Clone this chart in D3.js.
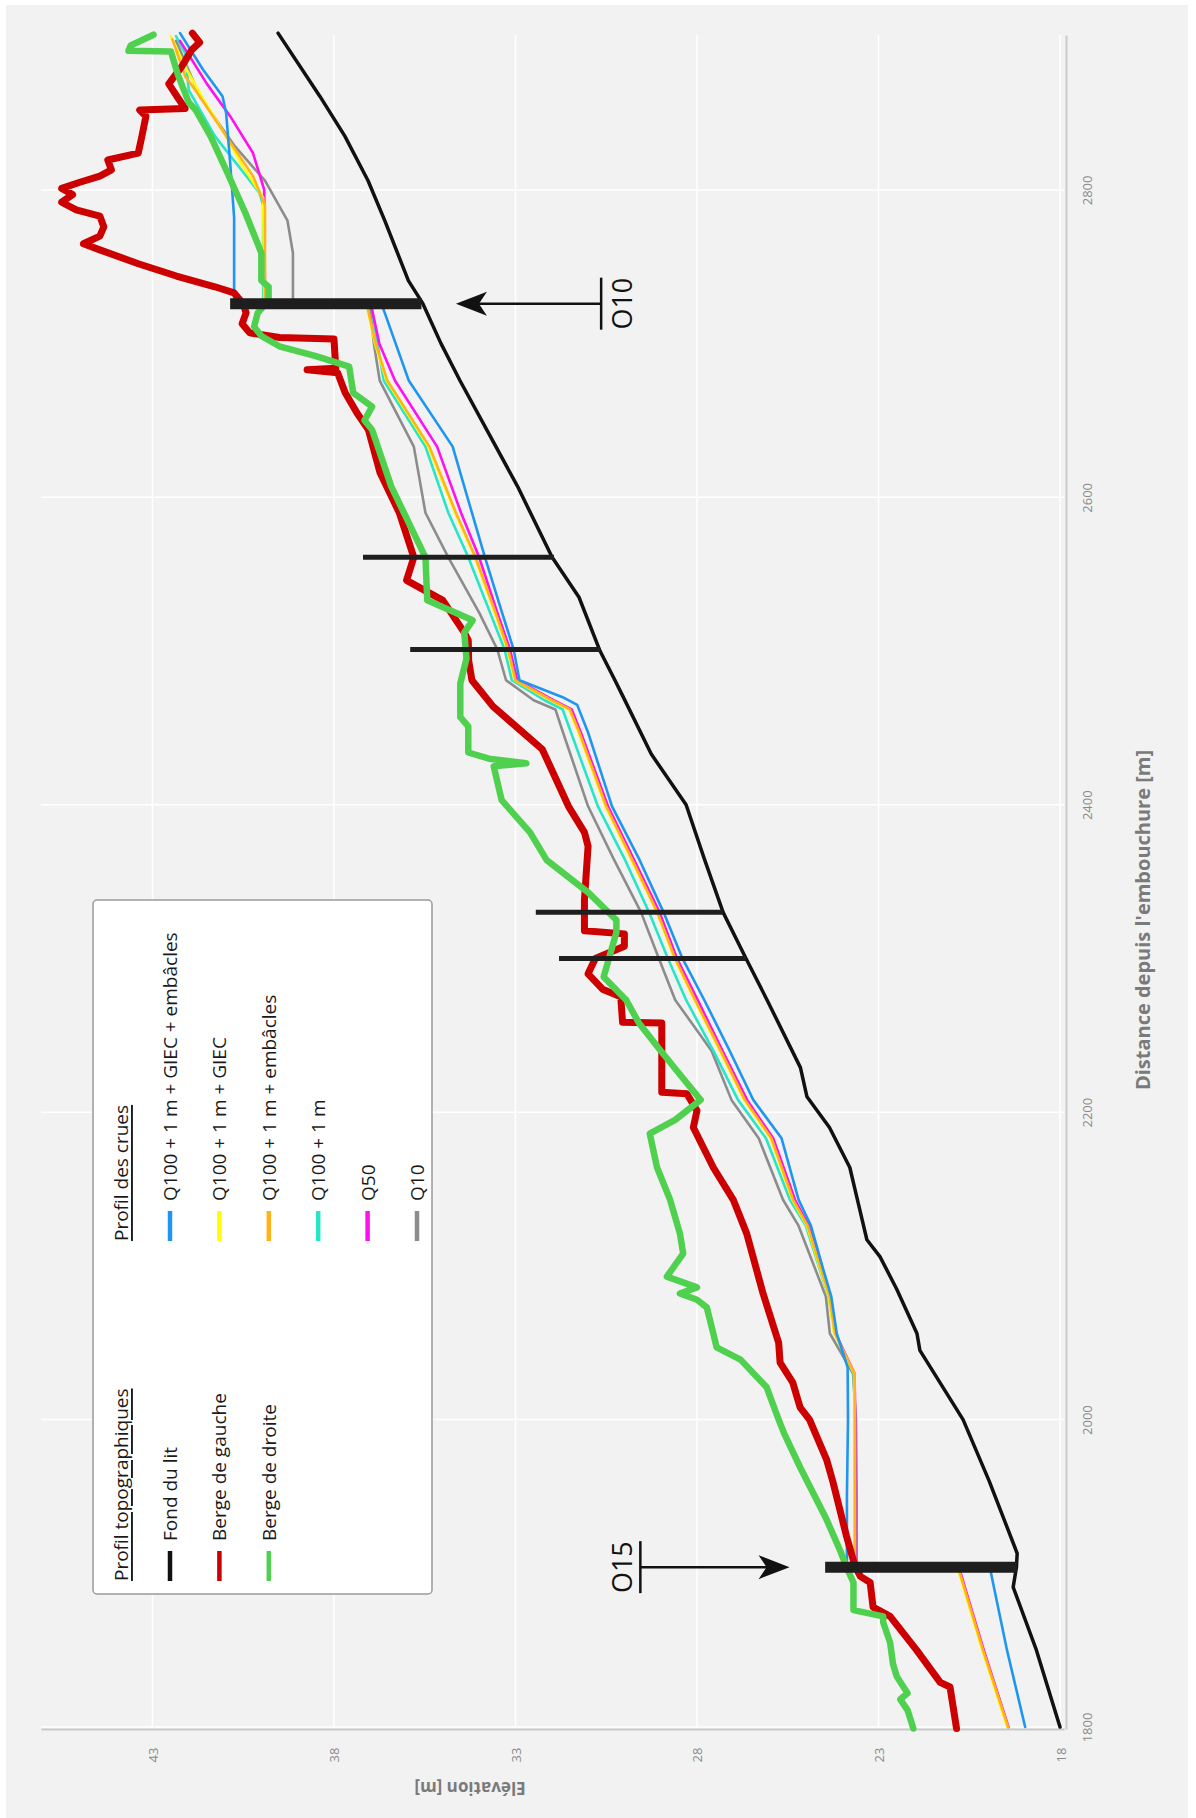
<!DOCTYPE html>
<html><head><meta charset="utf-8">
<script src="https://cdn.jsdelivr.net/npm/d3@7"></script>
<style>body{margin:0;background:#fff}svg{display:block}</style>
</head><body>
<svg id="c" width="1196" height="1818"></svg>
<script>
// ---------- DATA (distance [m], elevation [m]) ----------
const elevTicks = [18, 23, 28, 33, 38, 43];
const distTicks = [1800, 2000, 2200, 2400, 2600, 2800];

const fondDuLit = [[1800,18.0],[1850,18.65],[1891,19.29],[1904,19.2],[1913,19.18],[1960,19.95],[2000,20.67],[2045,21.86],[2056,21.94],[2085,22.5],[2106,22.96],[2117,23.32],[2140,23.55],[2164,23.79],[2190,24.35],[2210,24.97],[2229,25.15],[2273,26.07],[2300,26.65],[2330,27.28],[2365,27.8],[2400,28.3],[2433,29.26],[2471,30.05],[2481,30.26],[2500,30.67],[2535,31.25],[2561,31.99],[2607,32.94],[2640,33.7],[2676,34.53],[2700,35.05],[2726,35.55],[2741,35.95],[2780,36.6],[2806,37.06],[2835,37.7],[2861,38.39],[2902,39.54]];

const bergeGauche = [[1799,20.85],[1826,21.03],[1829,21.3],[1850,21.95],[1872,22.68],[1878,23.15],[1894,23.23],[1898,23.5],[1905,23.65],[1924,23.88],[1959,24.25],[1974,24.43],[2000,24.9],[2008,25.16],[2024,25.36],[2037,25.71],[2050,25.75],[2082,26.18],[2121,26.63],[2143,27.0],[2164,27.55],[2190,28.1],[2201,28.0],[2212,28.28],[2213,28.97],[2258,28.97],[2258.5,30.05],[2275,30.1],[2280,30.6],[2290,31.0],[2300,30.8],[2308,30.0],[2316,30.0],[2318,31.1],[2338,31.1],[2373,31.0],[2382,31.1],[2399,31.54],[2436,32.26],[2464,33.62],[2481,34.2],[2494,34.29],[2507,34.3],[2512,34.41],[2533,35.0],[2546,36.0],[2561,35.8],[2590,36.2],[2616,36.73],[2644,37.05],[2655,37.37],[2668,37.69],[2681,37.9],[2683,38.74],[2684,37.95],[2703,38.0],[2704,39.5],[2707,40.32],[2713,40.53],[2720,40.42],[2726,40.5],[2733,40.75],[2737,41.28],[2744,42.34],[2752,43.39],[2761,44.45],[2765,44.9],[2770,44.45],[2776,44.34],[2783,44.45],[2787,45.1],[2792,45.5],[2797,45.2],[2801,45.5],[2805,45.0],[2809,44.45],[2813,44.13],[2819.5,44.23],[2824,43.39],[2835,43.29],[2848,43.18],[2852,43.35],[2853,42.1],[2860,42.3],[2869,42.55],[2880,42.2],[2891,41.92],[2896,41.7],[2902,41.9]];

const bergeDroite = [[1799,22.04],[1811,22.2],[1818,22.4],[1822,22.2],[1833,22.5],[1841,22.6],[1855,22.68],[1868,22.87],[1872,22.87],[1876,23.69],[1894,23.69],[1904,23.88],[1915,24.06],[1936,24.45],[1969,25.16],[1991,25.6],[2000,25.75],[2021,26.08],[2039,26.8],[2047,27.46],[2056,27.55],[2073,27.73],[2078,28.0],[2082,28.47],[2086,28.0],[2093,28.83],[2108,28.38],[2121,28.47],[2143,28.74],[2164,29.1],[2186,29.3],[2195,28.6],[2208,27.9],[2219,28.28],[2240,29.0],[2258,29.6],[2273,29.95],[2288,30.57],[2317,30.22],[2325,30.22],[2343,31.0],[2364,32.14],[2382,32.6],[2403,33.38],[2425,33.6],[2427,32.7],[2430,33.73],[2434,34.3],[2451,34.3],[2457,34.52],[2479,34.52],[2495,34.35],[2512,34.41],[2520,34.18],[2533,35.43],[2561,35.48],[2607,36.42],[2644,36.95],[2650,37.16],[2659,36.95],[2668,37.47],[2685,37.58],[2692,38.52],[2698,39.48],[2705,40.0],[2711,40.2],[2720,40.1],[2728,39.8],[2737,39.8],[2741,40.0],[2759,40.0],[2785,40.44],[2813,40.97],[2835,41.4],[2852,41.81],[2857,42.0],[2875,42.3],[2890,42.49],[2890.5,43.66],[2894,43.6],[2901,42.97]];

const q100GiecEmb = [[1800,18.96],[1850,19.46],[1903.5,19.93],[1904.5,23.87],[1950,23.87],[2000,23.84],[2034,23.85],[2056,24.15],[2080,24.3],[2100,24.55],[2126,24.86],[2143,25.2],[2183,25.67],[2208,26.45],[2240,27.1],[2273,27.8],[2300,28.4],[2330,28.92],[2365,29.6],[2399,30.34],[2447,31.0],[2465,31.3],[2470,31.7],[2481,32.89],[2501,33.05],[2525,33.37],[2561,33.84],[2590,34.2],[2633,34.73],[2676,35.94],[2700,36.3],[2722,36.63],[2725.5,36.7],[2726.5,40.75],[2782,40.75],[2818,40.86],[2850,40.97],[2861,41.07],[2878,41.6],[2902,42.24]];

const q100Giec = [[1800,19.45],[1850,20.14],[1903.5,20.82],[1904.5,23.66],[1950,23.66],[2000,23.66],[2030,23.67],[2056,24.22],[2080,24.37],[2126,24.97],[2143,25.37],[2183,25.97],[2208,26.7],[2240,27.37],[2273,28.07],[2300,28.62],[2330,29.1],[2365,29.82],[2399,30.52],[2447,31.26],[2462,31.52],[2468,32.02],[2481,33.02],[2501,33.22],[2525,33.57],[2561,34.12],[2590,34.66],[2633,35.4],[2676,36.55],[2700,36.87],[2722,37.07],[2725.5,37.1],[2726.5,39.92],[2795,39.95],[2815,40.5],[2840,41.1],[2859,41.6],[2880,42.1],[2893,42.35],[2900,42.5]];

const q100Emb = [[1800,19.43],[1850,20.12],[1903.5,20.8],[1904.5,23.65],[1950,23.65],[2000,23.65],[2030,23.66],[2056,24.2],[2080,24.35],[2126,24.95],[2143,25.35],[2183,25.95],[2208,26.68],[2240,27.35],[2273,28.05],[2300,28.6],[2330,29.09],[2365,29.8],[2399,30.5],[2447,31.24],[2462,31.5],[2468,32.0],[2481,33.0],[2501,33.2],[2525,33.55],[2561,34.1],[2590,34.64],[2633,35.37],[2676,36.53],[2700,36.85],[2722,37.06],[2725.5,37.1],[2726.5,39.9],[2790,39.9],[2809,40.23],[2835,40.97],[2861,41.7],[2874,42.1],[2898,42.45]];

const q100 = [[1800,19.43],[1850,20.12],[1903.5,20.8],[1904.5,23.65],[1950,23.65],[2000,23.65],[2030,23.68],[2056,24.2],[2080,24.38],[2126,25.0],[2143,25.44],[2183,26.1],[2208,26.87],[2240,27.55],[2273,28.3],[2300,28.8],[2330,29.32],[2365,30.0],[2399,30.73],[2447,31.47],[2462,31.7],[2468,32.2],[2481,33.1],[2501,33.3],[2525,33.7],[2561,34.3],[2590,34.85],[2633,35.48],[2676,36.63],[2700,36.8],[2722,36.95],[2725.5,37.0],[2726.5,39.95],[2790,39.95],[2798,40.05],[2835,41.28],[2865,42.0],[2889,42.1],[2900,42.35]];

const q50 = [[1800,19.42],[1850,20.1],[1903.5,20.78],[1904.5,23.64],[1950,23.64],[2000,23.64],[2030,23.66],[2056,24.18],[2080,24.32],[2126,24.92],[2143,25.3],[2183,25.9],[2208,26.62],[2240,27.3],[2273,27.98],[2300,28.55],[2330,29.03],[2365,29.75],[2399,30.45],[2447,31.2],[2462,31.45],[2468,31.95],[2481,32.95],[2501,33.15],[2525,33.5],[2561,34.0],[2590,34.5],[2633,35.16],[2676,36.32],[2700,36.75],[2722,36.95],[2725.5,37.0],[2726.5,39.9],[2800,39.92],[2824,40.23],[2848,40.86],[2869,41.5],[2897,42.24]];

const q10 = [[1800,19.43],[1850,20.12],[1903.5,20.8],[1904.5,23.6],[1950,23.6],[2000,23.62],[2030,23.7],[2056,24.34],[2080,24.45],[2126,25.2],[2143,25.63],[2183,26.3],[2208,27.05],[2240,27.6],[2273,28.6],[2300,29.05],[2330,29.54],[2365,30.3],[2399,31.0],[2447,31.69],[2462,31.9],[2468,32.5],[2481,33.26],[2501,33.5],[2525,34.0],[2561,34.85],[2590,35.48],[2633,35.8],[2676,36.74],[2700,36.9],[2722,37.0],[2725.5,37.1],[2726.5,39.13],[2759,39.13],[2780,39.28],[2806,39.9],[2829,40.75],[2861,41.7],[2897,42.35]];

// cross-sections (vertical bars)
const sectionDist = [1904, 2300, 2330, 2501, 2561, 2726];
const sectionTop = [24.47, 31.8, 32.44, 35.9, 37.2, 40.86];
const sectionBottom = [19.19, 26.65, 27.28, 30.67, 31.94, 35.59];
const sectionMajor = [true, false, false, false, false, true];

// labelled arrows
const arrowNames = ["O15", "O10"];
const arrowDist = [1904, 2726];
const arrowTail = [29.56, 30.64];
const arrowHead = [25.45, 34.64];
const arrowLabelElev = [30.08, 30.07];

const topoLabels = ["Fond du lit", "Berge de gauche", "Berge de droite"];
const crueLabels = ["Q100 + 1 m + GIEC + embâcles", "Q100 + 1 m + GIEC", "Q100 + 1 m + embâcles", "Q100 + 1 m", "Q50", "Q10"];

// ---------- STYLE ----------
const FONT = "'Open Sans', 'Noto Sans', sans-serif";
const colors = {
  fond: "#111111", gauche: "#cc0000", droite: "#4fd14f",
  q100GiecEmb: "#1e96f0", q100Giec: "#ffff00", q100Emb: "#ffb319",
  q100: "#27e6c8", q50: "#ff10f0", q10: "#8c8c8c"
};

const svg = d3.select("#c");
const x = d3.scaleLinear().domain([17.89, 46.07]).range([1064, 41]);   // elevation -> screen x
const y = d3.scaleLinear().domain([1798.7, 2900.8]).range([1729, 35]); // distance -> screen y

svg.append("rect").attr("x", 6).attr("y", 5).attr("width", 1182).attr("height", 1813).attr("fill", "#f2f2f2");

// grid
const grid = svg.append("g");
grid.selectAll("line.vg").data(elevTicks).join("line").attr("class", "vg")
  .attr("x1", d => x(d)).attr("x2", d => x(d)).attr("y1", y.range()[1]).attr("y2", y.range()[0])
  .attr("stroke", "#ffffff").attr("stroke-width", 1.5);
grid.selectAll("line.hg").data(distTicks).join("line").attr("class", "hg")
  .attr("y1", d => y(d)).attr("y2", d => y(d)).attr("x1", x.range()[1]).attr("x2", x.range()[0])
  .attr("stroke", "#ffffff").attr("stroke-width", 1.5);

// axes
const axB = svg.append("g").attr("transform", `translate(0,${y.range()[0]})`)
  .call(d3.axisBottom(x).tickValues(elevTicks).tickSize(0).tickSizeOuter(0).tickFormat(d3.format("d")));
axB.attr("font-family", FONT).attr("font-size", 13);
axB.select(".domain").attr("stroke", "#c9c9c9").attr("stroke-width", 2);
axB.selectAll("text").attr("y", 0).attr("x", 0).attr("dy", null)
  .attr("transform", "translate(0,26) rotate(-90)").attr("text-anchor", "middle")
  .attr("dominant-baseline", "central").attr("fill", "#8a8a8a");

const axR = svg.append("g").attr("transform", `translate(${x.range()[0] + 2},0)`)
  .call(d3.axisRight(y).tickValues(distTicks).tickSize(0).tickSizeOuter(0).tickFormat(d3.format("d")));
axR.attr("font-family", FONT).attr("font-size", 13);
axR.select(".domain").attr("stroke", "#c9c9c9").attr("stroke-width", 2);
axR.selectAll("text").attr("y", 0).attr("x", 0).attr("dy", null)
  .attr("transform", "translate(21,0) rotate(-90)").attr("text-anchor", "middle")
  .attr("dominant-baseline", "central").attr("fill", "#8a8a8a");

// axis titles
svg.append("text").attr("transform", "translate(470,1788) rotate(180)")
  .attr("text-anchor", "middle").attr("dominant-baseline", "central")
  .attr("font-family", FONT).attr("font-weight", "bold").attr("font-size", 17).attr("fill", "#7a7a7a")
  .text("Elévation [m]");
svg.append("text").attr("transform", "translate(1142,920) rotate(-90)")
  .attr("text-anchor", "middle").attr("dominant-baseline", "central")
  .attr("font-family", FONT).attr("font-weight", "bold").attr("font-size", 20).attr("fill", "#7a7a7a")
  .text("Distance depuis l'embouchure [m]");

// lines
const line = d3.line().x(p => x(p[1])).y(p => y(p[0]));
const series = [
  {data: fondDuLit, c: colors.fond, w: 3.5},
  {data: q10, c: colors.q10, w: 2.6},
  {data: q100, c: colors.q100, w: 2.6},
  {data: q50, c: colors.q50, w: 2.6},
  {data: q100Giec, c: colors.q100Giec, w: 2.6},
  {data: q100Emb, c: colors.q100Emb, w: 2.6},
  {data: q100GiecEmb, c: colors.q100GiecEmb, w: 2.6},
  {data: bergeGauche, c: colors.gauche, w: 7},
  {data: bergeDroite, c: colors.droite, w: 6.5}
];
svg.append("g").selectAll("path").data(series).join("path")
  .attr("d", s => line(s.data)).attr("fill", "none")
  .attr("stroke", s => s.c).attr("stroke-width", s => s.w)
  .attr("stroke-linejoin", "round").attr("stroke-linecap", "round");

// cross-section bars
svg.append("g").selectAll("line").data(sectionDist).join("line")
  .attr("x1", (d, i) => x(sectionTop[i])).attr("x2", (d, i) => x(sectionBottom[i]))
  .attr("y1", d => y(d)).attr("y2", d => y(d))
  .attr("stroke", "#1e1e1e").attr("stroke-width", (d, i) => sectionMajor[i] ? 11 : 5);

// arrows + labels
const ag = svg.append("g");
arrowNames.forEach((name, i) => {
  const yy = y(arrowDist[i]);
  const xt = x(arrowTail[i]), xh = x(arrowHead[i]);
  const dir = xh > xt ? 1 : -1;
  ag.append("line").attr("x1", xt).attr("x2", xh - dir * 20).attr("y1", yy).attr("y2", yy)
    .attr("stroke", "#111").attr("stroke-width", 2.5);
  ag.append("path").attr("transform", `translate(${xh},${yy}) scale(${dir},1)`)
    .attr("d", "M0,0 L-31,-12 L-23,0 L-31,12 Z").attr("fill", "#111");
  ag.append("line").attr("x1", xt).attr("x2", xt).attr("y1", yy - 26).attr("y2", yy + 26)
    .attr("stroke", "#111").attr("stroke-width", 2.5);
  ag.append("text").attr("transform", `translate(${x(arrowLabelElev[i])},${yy}) rotate(-90)`)
    .attr("text-anchor", "middle").attr("dominant-baseline", "central")
    .attr("font-family", FONT).attr("font-size", 27).attr("fill", "#111").text(name);
});

// legend
const lg = svg.append("g");
lg.append("rect").attr("x", 93).attr("y", 900).attr("width", 339).attr("height", 694).attr("rx", 4)
  .attr("fill", "#ffffff").attr("stroke", "#9a9a9a").attr("stroke-width", 1.5);
const headerX = 121, rowX0 = 170, rowStep = 49.4;
const cols = [
  {y0: 1581, title: "Profil topographiques", labels: topoLabels, cs: [colors.fond, colors.gauche, colors.droite]},
  {y0: 1241, title: "Profil des crues", labels: crueLabels,
   cs: [colors.q100GiecEmb, colors.q100Giec, colors.q100Emb, colors.q100, colors.q50, colors.q10]}
];
cols.forEach(col => {
  lg.append("text").attr("transform", `translate(${headerX},${col.y0}) rotate(-90)`)
    .attr("dominant-baseline", "central").attr("font-family", FONT).attr("font-size", 19)
    .attr("fill", "#1a1a1a").attr("text-decoration", "underline").style("text-decoration", "underline")
    .text(col.title);
  col.labels.forEach((lab, i) => {
    const cx = rowX0 + i * rowStep;
    lg.append("line").attr("x1", cx).attr("x2", cx).attr("y1", col.y0).attr("y2", col.y0 - 30)
      .attr("stroke", col.cs[i]).attr("stroke-width", 4.5);
    lg.append("text").attr("transform", `translate(${cx},${col.y0 - 40}) rotate(-90)`)
      .attr("dominant-baseline", "central").attr("font-family", FONT).attr("font-size", 19)
      .attr("fill", "#1a1a1a").text(lab);
  });
});
</script>
</body></html>
